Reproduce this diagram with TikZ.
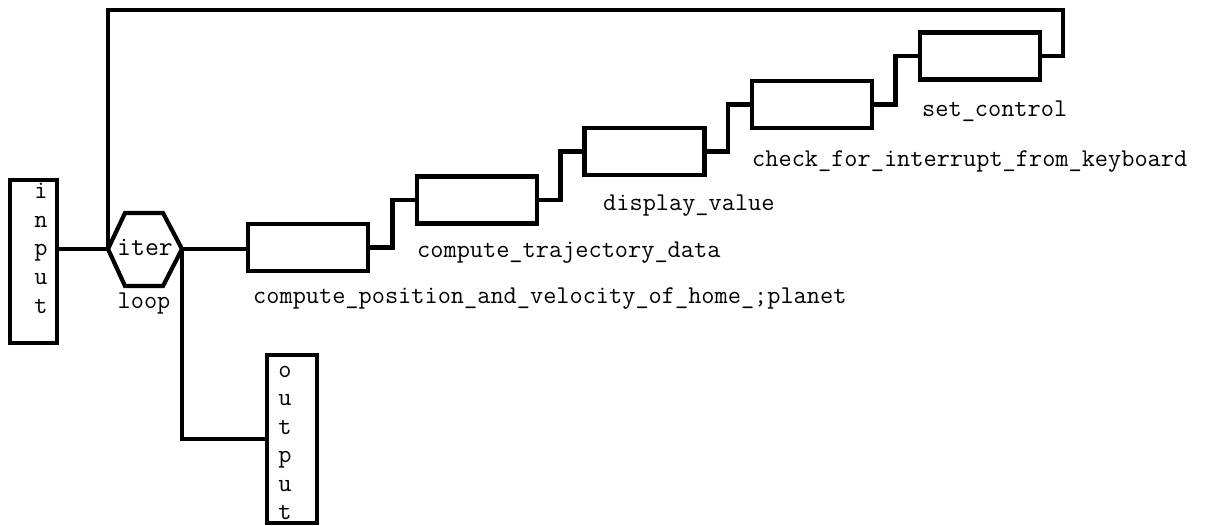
\documentclass[tikz,border=0pt]{standalone}
\begin{document}
\begin{tikzpicture}[x=1pt,y=-1pt,
  wire/.style={line width=4.2pt, line join=miter},
  box/.style={draw, line width=4.2pt, minimum width=120pt, minimum height=47pt, inner sep=0pt, outer sep=0pt},
  tall/.style={draw, line width=4.2pt, inner sep=0pt, outer sep=0pt},
  lbl/.style={font=\fontsize{25.6}{27}\selectfont\ttfamily, anchor=base west, inner sep=0pt},
  chr/.style={font=\fontsize{25.6}{27}\selectfont\ttfamily, anchor=base, inner sep=0pt}]
\useasboundingbox (0,0) rectangle (1205,525);

% input and output boxes
\node[tall, minimum width=47pt, minimum height=163pt] (input) at (33.5,261.5) {};
\node[tall, minimum width=50pt, minimum height=168pt] (output) at (292,439) {};
\foreach \c [count=\i] in {i,n,p,u,t}
  \node[chr] (in\i) at (41,{198.5+28.7*(\i-1)}) {\c};
\foreach \c [count=\i] in {o,u,t,p,u,t}
  \node[chr] (out\i) at (285,{377.5+28.4*(\i-1)}) {\c};

% iteration hexagon
\coordinate (hl) at (108,249);
\coordinate (hr) at (182,249);
\draw[wire] (hl) -- (125,213) -- (163,213) -- (hr) -- (163,286) -- (125,286) -- cycle;
\node[chr, font=\fontsize{27}{28}\selectfont\ttfamily] (iter) at (145,255) {iter};
\node[chr] (loop) at (144,308) {loop};

% process boxes
\node[box] (b1) at (308,247.5) {};
\node[box] (b2) at (477,200) {};
\node[box] (b3) at (644.5,151.5) {};
\node[box] (b4) at (812,104.5) {};
\node[box] (b5) at (980,56) {};

\node[lbl] (t1) at (253,303) {compute\_position\_and\_velocity\_of\_home\_;planet};
\node[lbl] (t2) at (417,257) {compute\_trajectory\_data};
\node[lbl] (t3) at (603,210) {display\_value};
\node[lbl] (t4) at (752,166) {check\_for\_interrupt\_from\_keyboard};
\node[lbl] (t5) at (922,116) {set\_control};

% connectors
\draw[wire] (input.east |- hl) -- (hl);
\draw[wire] (hr) -- (hr -| b1.west);
\draw[wire] (hr) |- (output.west);
\draw[wire] (b1.east) -- ++(24.5,0) |- (b2.west);
\draw[wire] (b2.east) -- ++(23.5,0) |- (b3.west);
\draw[wire] (b3.east) -- ++(23.5,0) |- (b4.west);
\draw[wire] (b4.east) -- ++(23.5,0) |- (b5.west);
\coordinate (fb) at (1063,10);
\draw[wire] (b5.east) -| (fb) -| (hl);
\end{tikzpicture}
\end{document}
